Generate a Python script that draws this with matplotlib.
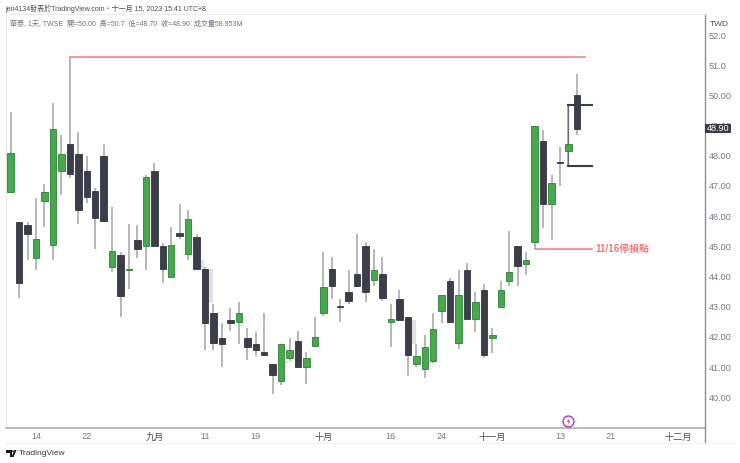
import matplotlib
matplotlib.use("Agg")
import matplotlib.pyplot as plt
from matplotlib.path import Path
from matplotlib.patches import Polygon, Circle, Rectangle

plt.rcParams['font.family'] = ['Liberation Sans', 'Noto Sans CJK TC', 'DejaVu Sans']

# OHLC
opens = [46.8, 45.8, 45.7, 44.6, 46.5, 45.05, 47.5, 48.4, 48.05, 47.5, 46.85, 48, 44.3, 44.7, 44.2, 45.2, 45,
         47.5, 45, 44, 45.45, 44.75, 45.3, 44.25, 42.8, 41.95, 42.55, 42.5, 41.95, 41.75, 41.5, 41.1, 40.55, 41.3,
         41.85, 41, 41.7, 42.8, 44.25, 43.0, 43.5, 44.1, 45, 43.9, 44.1, 42.5, 43.25, 42.65, 41.1, 40.95, 41.2,
         42.85, 43.85, 41.8, 44.2, 42.6, 43.55, 41.95, 43, 43.85, 45, 44.4, 45.15, 48.5, 46.4, 47.8, 48.15, 50]
highs = [49.45, 45.8, 45.8, 46.6, 47.05, 49.75, 48.7, 51.27, 48.8, 48, 46.95, 48.4, 46.3, 44.8, 45.75, 45.7, 47.35,
         47.75, 45.1, 45.65, 46.4, 46.2, 45.4, 44.3, 43.1, 42.45, 42.95, 43.15, 42.3, 42.15, 42.8, 41.1, 41.75, 41.95,
         42.2, 41.5, 42.65, 44.8, 44.65, 43.25, 44.2, 45.4, 45.15, 44.9, 44.65, 43.1, 43.55, 42.65, 41.75, 42.05, 42.8,
         43.4, 43.95, 44.2, 44.45, 43.5, 43.75, 42.3, 43.85, 45.5, 45, 44.8, 48.98, 48.85, 47.35, 48.3, 49.7, 50.7]
lows = [46.8, 43.3, 44.55, 44.2, 45.65, 44.55, 46.7, 47.25, 45.75, 46.45, 44.9, 45.8, 44.15, 42.65, 43.6, 44.6, 44.2,
        45, 43.8, 44, 45.25, 44.55, 44.25, 41.55, 41.55, 41, 42.2, 41.75, 41.25, 41.35, 41.4, 40.1, 40.4, 41.2,
        41, 40.45, 41.65, 42.7, 43.25, 42.5, 43.1, 43.65, 43.15, 43.7, 43.2, 41.65, 42.55, 40.7, 41, 40.65, 41.15,
        42.45, 42.5, 41.6, 42.6, 42.15, 41.3, 41.45, 43, 43.7, 43.7, 44.05, 44.9, 45.6, 45.2, 47, 47.65, 48.7]
closes = [48.1, 43.8, 45.4, 45.25, 46.8, 48.9, 48.05, 47.4, 46.2, 46.65, 45.95, 45.85, 44.85, 43.35, 44.25, 44.9, 47.3,
          45, 44.25, 45.05, 45.35, 45.9, 44.25, 42.45, 41.8, 41.75, 42.45, 42.8, 41.65, 41.55, 41.4, 40.75, 41.75, 41.55,
          41, 41.3, 42, 43.65, 43.7, 42.98, 43.2, 43.7, 43.5, 44.2, 43.3, 42.6, 42.55, 41.4, 41.35, 41.65, 42.25,
          43.4, 42.5, 43.4, 42.6, 43.15, 41.4, 42.05, 43.55, 44.15, 44.35, 44.55, 48.98, 46.4, 47.1, 47.75, 48.4, 48.9]

# faint grey boxes left behind in the screenshot
ghost_x = [22.6, 23.7, 32.5, 47.67]
ghost_top = [44.55, 44.25, 41.2, 42.56]
ghost_bottom = [44.25, 43.13, 41.12, 41.76]

# drawings
red_top_x = [7, 67.95]
red_top_y = [51.27, 51.27]
red_stop_x = [62, 68.8]
red_stop_y = [44.9, 44.9]
box_left = 66
box_right = 68.8
box_high = 49.7
box_low = 47.65

x_ticks = [3, 9, 17, 23, 29, 37, 45, 51, 57, 65, 71, 79]
x_labels = ['14', '22', '九月', '11', '19', '十月', '16', '24', '十一月', '13', '21', '十二月']
y_ticks = [40, 41, 42, 43, 44, 45, 46, 47, 48, 49, 50, 51, 52]
y_labels = ['40.00', '41.00', '42.00', '43.00', '44.00', '45.00', '46.00', '47.00', '48.00', '49.00', '50.00', '51.0', '52.0']
last_price = 48.90

GREEN = '#46aa4c'
GREEN_EDGE = '#2f7f3c'
DARK = '#3b3d49'
RED = '#f0787f'
TEXT = '#787b86'

W, H = 740, 463
fig = plt.figure(figsize=(W / 100, H / 100), dpi=100, facecolor='white')
ax = fig.add_axes([6 / W, 1 - 428.3 / H, 698.7 / W, 414.3 / H])
ax.set_xlim(-0.556, 82.13)
ax.set_ylim(38.97, 52.7)

x = list(range(len(opens)))
ups = [c > o for o, c in zip(opens, closes)]
body_bottom = [min(o, c) for o, c in zip(opens, closes)]
body_h = [max(abs(o - c), 0.04) for o, c in zip(opens, closes)]

ax.bar(ghost_x, [t - b for t, b in zip(ghost_top, ghost_bottom)], bottom=ghost_bottom, width=0.6, color='#e2e2e2', zorder=1)
ax.vlines(x, lows, highs, color='#a2a3a6', lw=1.1, zorder=2)
ax.bar(x, body_h, bottom=body_bottom, width=0.76,
       color=[GREEN if u else DARK for u in ups],
       edgecolor=[GREEN_EDGE if u else '#34363f' for u in ups], linewidth=0.6, zorder=3)

ax.plot(red_top_x, red_top_y, color=RED, lw=1.1, zorder=4)
ax.plot(red_stop_x, red_stop_y, color=RED, lw=1.1, zorder=4)
ax.plot([box_left, box_left], [box_low, box_high], color='#6a6c74', lw=0.9, zorder=2.5)
ax.plot([box_left, box_right], [box_high, box_high], color='#3a3c46', lw=1.5, zorder=2.5)
ax.plot([box_left, box_right], [box_low, box_low], color='#3a3c46', lw=1.5, zorder=2.5)
ax.text(69.2, 44.9, '11/16停損點', color=RED, fontsize=7.1, fontweight='bold', va='center', ha='left')

# lightning badge
ax.scatter([66], [39.2], s=62, facecolor='white', edgecolor='#a63cc4', linewidth=1, zorder=5, clip_on=False)
bolt = Path([(0.3, 1), (-0.5, -0.1), (0, -0.1), (-0.3, -1), (0.5, 0.2), (0, 0.2), (0.3, 1)], closed=True)
ax.scatter([66], [39.2], s=26, marker=bolt, color='#a63cc4', linewidth=0, zorder=6, clip_on=False)

ax.set_xticks(x_ticks)
ax.set_xticklabels(x_labels)
ax.yaxis.tick_right()
ax.set_yticks(y_ticks)
ax.set_yticklabels(y_labels)
ax.tick_params(axis='both', length=0, labelsize=6.6, labelcolor=TEXT)
ax.tick_params(axis='x', pad=3)
ax.tick_params(axis='y', pad=3.2)
for lab in ax.get_xticklabels():
    if lab.get_text().endswith('月'):
        lab.set_color('#4c4e58')

ax.spines['left'].set_color('#e6e6e6')
ax.spines['top'].set_color('#ececec')
ax.spines['top'].set_linewidth(0.8)
ax.spines['bottom'].set_color('#b4b5b8')
ax.spines['bottom'].set_linewidth(1.3)
ax.spines['right'].set_color('#8d8f96')
ax.spines['right'].set_linewidth(1)

# last price tag
trans = ax.get_yaxis_transform()
ax.add_patch(Rectangle((1, last_price - 0.14), 26 / 698.7, 0.28, transform=trans, fc='#3a3c46', ec='none', clip_on=False, zorder=9))
ax.text(1 + 13 / 698.7, last_price, '48.90', transform=trans, color='white', fontsize=6.6, va='center', ha='center', zorder=10, clip_on=False)

# text and frame outside the axes
fig.text(5 / W, 1 - 9 / H, 'jen4134發表於TradingView.com・十一月 15, 2023 15:41 UTC+8', fontsize=5.05, color='#4c4e58', va='center')
fig.text(10 / W, 1 - 24 / H, '華泰, 1天, TWSE  開=50.00  高=50.7  低=48.70  收=48.90  成交量58.953M', fontsize=5.05, color='#6f7280', va='center')
fig.text(719.5 / W, 1 - 24 / H, 'TWD', fontsize=6, color='#4c4e58', va='center', ha='center')
fig.add_artist(plt.Line2D([704.7 / W, 704.7 / W], [1 - 443 / H, 1 - 428 / H], color='#8d8f96', lw=1))
fig.add_artist(plt.Line2D([6 / W, 735 / W], [1 - 443 / H, 1 - 443 / H], color='#eeeeee', lw=0.8))

# TradingView logo
px = lambda a, b: (a / W, 1 - b / H)
fig.add_artist(Polygon([px(6, 450), px(12, 450), px(12, 457), px(9.5, 457), px(9.5, 452.5), px(6, 452.5)], closed=True, transform=fig.transFigure, fc='#131722', ec='none'))
fig.add_artist(Circle(px(13.2, 451.2), 1.2 / W, transform=fig.transFigure, fc='#131722', ec='none'))
fig.add_artist(Polygon([px(14.5, 450), px(16.5, 450), px(13.5, 457), px(11.5, 457)], closed=True, transform=fig.transFigure, fc='#131722', ec='none'))
fig.text(19 / W, 1 - 453.5 / H, 'TradingView', fontsize=6, color='#3c3e48', va='center')

fig.savefig('out.png', dpi=100)
